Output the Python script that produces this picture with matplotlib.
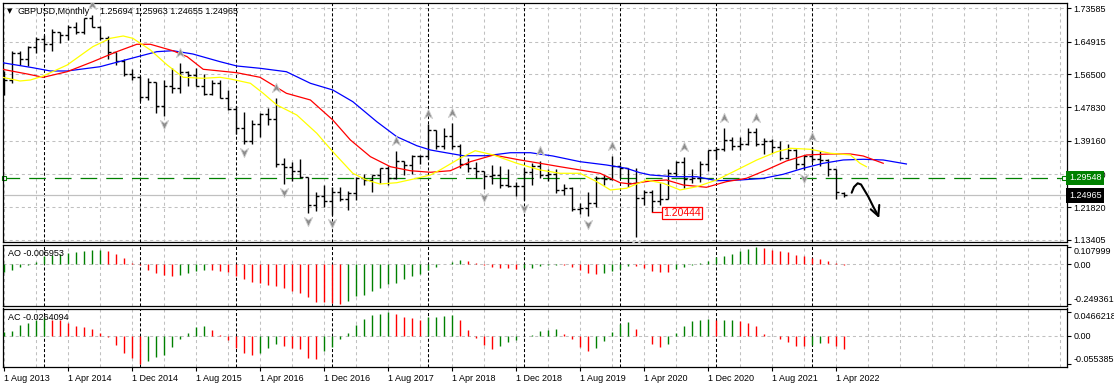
import matplotlib
matplotlib.use('Agg')
import matplotlib.pyplot as plt
import matplotlib.transforms as mtransforms
from matplotlib.collections import LineCollection
from matplotlib.path import Path

plt.rcParams['font.family'] = ['Liberation Sans', 'DejaVu Sans']
plt.rcParams['lines.scale_dashes'] = False

# GBPUSD monthly bars, Aug 2013 .. May 2022 (index 0 = Aug 2013)
opens = [1.5208, 1.5494, 1.6195, 1.6033, 1.6362, 1.6563, 1.6434, 1.6749, 1.6675, 1.6881,
         1.6749, 1.7110, 1.6883, 1.6595, 1.6215, 1.5996, 1.5643, 1.5577, 1.5046, 1.5434,
         1.4826, 1.5347, 1.5283, 1.5712, 1.5614, 1.5338, 1.5127, 1.5424, 1.5034, 1.4741,
         1.4247, 1.3919, 1.4364, 1.4615, 1.4478, 1.3311, 1.3231, 1.3130, 1.2969, 1.2238,
         1.2472, 1.2340, 1.2580, 1.2407, 1.2547, 1.2947, 1.2886, 1.3025, 1.3205, 1.2935,
         1.3396, 1.3280, 1.3527, 1.3514, 1.4190, 1.3774, 1.4027, 1.3775, 1.3300, 1.3200,
         1.3123, 1.2999, 1.3031, 1.2768, 1.2752, 1.2750, 1.3115, 1.3256, 1.3033, 1.3045,
         1.2631, 1.2694, 1.2151, 1.2161, 1.2288, 1.2941, 1.2918, 1.3262, 1.3206, 1.2825,
         1.2420, 1.2590, 1.2344, 1.2397, 1.3090, 1.3371, 1.2915, 1.2946, 1.3321, 1.3670,
         1.3709, 1.3923, 1.3782, 1.3821, 1.4150, 1.3830, 1.3904, 1.3755, 1.3470, 1.3681,
         1.3300, 1.3530, 1.3440, 1.3413, 1.3170, 1.25694]
highs = [1.5717, 1.6260, 1.6259, 1.6384, 1.6603, 1.6668, 1.6823, 1.6750, 1.6923, 1.6996,
         1.7113, 1.7192, 1.6896, 1.6643, 1.6227, 1.6036, 1.5785, 1.5588, 1.5552, 1.5451,
         1.5498, 1.5815, 1.5930, 1.5730, 1.5819, 1.5659, 1.5508, 1.5508, 1.5241, 1.4814,
         1.4668, 1.4459, 1.4637, 1.4769, 1.5018, 1.3479, 1.3372, 1.3445, 1.2973, 1.2587,
         1.2775, 1.2706, 1.2706, 1.2615, 1.2965, 1.3048, 1.3030, 1.3213, 1.3267, 1.3658,
         1.3400, 1.3539, 1.3549, 1.4345, 1.4200, 1.4245, 1.4377, 1.3823, 1.3472, 1.3363,
         1.3130, 1.3298, 1.3258, 1.3175, 1.2840, 1.3215, 1.3350, 1.3382, 1.3173, 1.3177,
         1.2783, 1.2708, 1.2310, 1.2582, 1.3012, 1.3013, 1.3514, 1.3284, 1.3210, 1.3200,
         1.2648, 1.2648, 1.2813, 1.3170, 1.3397, 1.3482, 1.3177, 1.3397, 1.3675, 1.3758,
         1.4241, 1.4005, 1.4009, 1.4240, 1.4249, 1.3984, 1.3958, 1.3913, 1.3834, 1.3700,
         1.3551, 1.3749, 1.3644, 1.3437, 1.3180, 1.25963]
lows = [1.5103, 1.5426, 1.5893, 1.5855, 1.6210, 1.6252, 1.6248, 1.6461, 1.6545, 1.6694,
        1.6693, 1.6864, 1.6535, 1.6052, 1.5875, 1.5591, 1.5485, 1.4951, 1.4988, 1.4633,
        1.4565, 1.5170, 1.5170, 1.5330, 1.5331, 1.5108, 1.5107, 1.5027, 1.4717, 1.4079,
        1.3836, 1.3838, 1.4005, 1.4330, 1.3228, 1.2798, 1.2866, 1.2947, 1.2030, 1.2081,
        1.2198, 1.1990, 1.2345, 1.2109, 1.2365, 1.2770, 1.2589, 1.2812, 1.2774, 1.2915,
        1.3026, 1.3062, 1.3302, 1.3449, 1.3712, 1.3712, 1.3710, 1.3205, 1.3099, 1.2957,
        1.2662, 1.2785, 1.2695, 1.2723, 1.2477, 1.2370, 1.2773, 1.2960, 1.2865, 1.2559,
        1.2506, 1.2080, 1.2015, 1.1959, 1.2195, 1.2768, 1.2900, 1.2954, 1.2725, 1.1409,
        1.2247, 1.2075, 1.2252, 1.2390, 1.3005, 1.2675, 1.2822, 1.2854, 1.3135, 1.3450,
        1.3661, 1.3670, 1.3668, 1.3799, 1.3787, 1.3571, 1.3601, 1.3411, 1.3433, 1.3194,
        1.3161, 1.3356, 1.3272, 1.3000, 1.2410, 1.24655]
closes = [1.5494, 1.6195, 1.6033, 1.6362, 1.6563, 1.6434, 1.6749, 1.6675, 1.6881, 1.6749,
          1.7110, 1.6883, 1.6595, 1.6215, 1.5996, 1.5643, 1.5577, 1.5046, 1.5434, 1.4826,
          1.5347, 1.5283, 1.5712, 1.5614, 1.5338, 1.5127, 1.5424, 1.5034, 1.4741, 1.4247,
          1.3919, 1.4364, 1.4615, 1.4478, 1.3311, 1.3231, 1.3130, 1.2969, 1.2238, 1.2472,
          1.2340, 1.2580, 1.2407, 1.2547, 1.2947, 1.2886, 1.3025, 1.3205, 1.2935, 1.3396,
          1.3280, 1.3527, 1.3514, 1.4190, 1.3774, 1.4027, 1.3775, 1.3300, 1.3200, 1.3123,
          1.2999, 1.3031, 1.2768, 1.2752, 1.2750, 1.3115, 1.3256, 1.3033, 1.3045, 1.2631,
          1.2694, 1.2151, 1.2161, 1.2288, 1.2941, 1.2918, 1.3262, 1.3206, 1.2825, 1.2420,
          1.2590, 1.2344, 1.2397, 1.3090, 1.3371, 1.2915, 1.2946, 1.3321, 1.3670, 1.3709,
          1.3923, 1.3782, 1.3821, 1.4150, 1.3830, 1.3904, 1.3755, 1.3470, 1.3681, 1.3300,
          1.3530, 1.3440, 1.3413, 1.3170, 1.2572, 1.24965]

# alligator lines (bar index, price)
jaw_x = [-0.2, 3.6, 5.8, 7.9, 12, 16.1, 19.1, 21.1, 23.6, 27, 29.1, 32, 35.3, 38.3, 41.1,
         43.6, 46.6, 49.1, 51.6, 53.3, 54.5, 57.4, 60.3, 63.3, 65.8, 68.6, 72, 75.3, 77.8,
         79.5, 80.8, 83.7, 86.6, 89.1, 92, 94.9, 97.4, 99.9, 102.4, 104.9, 107.4, 109.9, 112.8]
jaw_y = [1.5945, 1.5815, 1.5730, 1.5730, 1.5841, 1.6068, 1.6232, 1.6257, 1.6172, 1.5972,
         1.5860, 1.5800, 1.5711, 1.5410, 1.5236, 1.4932, 1.4411, 1.4021, 1.3787, 1.3676,
         1.3631, 1.3527, 1.3527, 1.3605, 1.3605, 1.3520, 1.3372, 1.3286, 1.3200, 1.3085,
         1.3026, 1.2981, 1.2981, 1.2877, 1.2895, 1.2939, 1.3044, 1.3200, 1.3330, 1.3416,
         1.3434, 1.3416, 1.3312]
teeth_x = [-0.2, 2.9, 4.9, 7.9, 11.1, 14.1, 16.6, 18.3, 21.1, 22.9, 24.9, 27, 29.1, 32,
           35.3, 38.3, 41.1, 43.3, 45.8, 48.3, 50.8, 53.3, 55.8, 58.3, 61.2, 64.5, 67, 69.5,
           72, 74.5, 77, 78.3, 80.8, 82.8, 84.9, 87.8, 90.3, 92.8, 95.3, 97.8, 100.3, 103.3,
           105.8, 107.4, 109.9]
teeth_y = [1.5774, 1.5652, 1.5566, 1.5712, 1.5972, 1.6232, 1.6424, 1.6424, 1.6257, 1.6101,
           1.5774, 1.5730, 1.5685, 1.5566, 1.5150, 1.4976, 1.4456, 1.3936, 1.3502, 1.3241,
           1.3137, 1.3096, 1.3137, 1.3372, 1.3545, 1.3416, 1.3330, 1.3241, 1.3156, 1.3070,
           1.2826, 1.2792, 1.2870, 1.2896, 1.2766, 1.2706, 1.2852, 1.2940, 1.3156, 1.3390,
           1.3546, 1.3572, 1.3572, 1.3520, 1.3330]
lips_x = [-0.2, 2, 3.3, 4.9, 7.9, 11.1, 13.3, 14.9, 16.1, 18.3, 20.4, 22.4, 24.9, 27, 28.3,
          30.8, 32.4, 34.1, 36.6, 39.1, 41.1, 43.6, 45.3, 47, 49.1, 51.6, 53.3, 54.5, 57,
          58.9, 61.2, 64.1, 67, 69.5, 72, 74.1, 75.8, 77.8, 80.3, 82.4, 84.5, 86.6, 89.1,
          91.6, 94.1, 96.6, 98.3, 100.8, 103.3, 105.8, 107, 107.8]
lips_y = [1.5566, 1.5470, 1.5496, 1.5600, 1.5886, 1.6362, 1.6580, 1.6640, 1.6580, 1.6276,
          1.5886, 1.5566, 1.5540, 1.5566, 1.5522, 1.5410, 1.5150, 1.4846, 1.4585, 1.4110,
          1.3631, 1.3070, 1.2896, 1.2791, 1.2825, 1.2940, 1.3026, 1.3156, 1.3460, 1.3657,
          1.3545, 1.3330, 1.3156, 1.3070, 1.3070, 1.2851, 1.2636, 1.2680, 1.2896, 1.2810,
          1.2636, 1.2721, 1.2896, 1.3156, 1.3416, 1.3631, 1.3720, 1.3694, 1.3590, 1.3546,
          1.3330, 1.3241]

# fractal bars
fractal_up = [11, 22, 34, 49, 53, 56, 67, 76, 85, 90, 94, 101]
fractal_down = [20, 30, 35, 38, 41, 60, 65, 73, 79, 100]

# Awesome oscillator and accelerator (g = rising bar, r = falling bar)
ao = [-0.0457, -0.0353, -0.0146, -0.0042, 0.0166, 0.0520, 0.0582, 0.0644, 0.0728, 0.0769,
      0.0832, 0.0873, 0.0894, 0.0832, 0.0644, 0.0416, 0.0104, -0.0042, -0.0353, -0.0520,
      -0.0665, -0.0728, -0.0644, -0.0520, -0.0395, -0.0353, -0.0374, -0.0395, -0.0499, -0.0707,
      -0.0915, -0.1102, -0.1143, -0.1310, -0.1351, -0.1497, -0.1663, -0.1767, -0.2058, -0.2328,
      -0.2370, -0.2432, -0.2494, -0.2266, -0.1954, -0.1913, -0.1642, -0.1497, -0.1227, -0.1143,
      -0.0915, -0.0707, -0.0603, -0.0374, -0.0146, 0.0021, 0.0146, 0.0270, 0.0208, 0.0083,
      -0.0021, -0.0146, -0.0208, -0.0229, -0.0291, -0.0249, -0.0208, -0.0083, -0.0062, -0.0021,
      -0.0042, -0.0146, -0.0353, -0.0561, -0.0603, -0.0520, -0.0416, -0.0291, -0.0104, -0.0125,
      -0.0208, -0.0416, -0.0478, -0.0499, -0.0270, -0.0146, -0.0021, 0.0083, 0.0229, 0.0478,
      0.0541, 0.0644, 0.0832, 0.0977, 0.1080, 0.0998, 0.0894, 0.0811, 0.0748, 0.0603,
      0.0520, 0.0395, 0.0333, 0.0187, 0.0083, -0.0060]
ao_colors = 'g' * 13 + 'r' * 9 + 'g' * 4 + 'r' * 17 + 'g' * 15 + 'r' * 7 + 'g' * 5 + 'r' * 5 \
            + 'g' * 4 + 'r' * 5 + 'g' * 11 + 'r' * 11
ac = [0.0079, 0.0092, 0.0211, 0.0243, 0.0309, 0.0362, 0.0309, 0.0303, 0.0257, 0.0191,
      0.0164, 0.0125, 0.0059, -0.0033, -0.0184, -0.0349, -0.0447, -0.0554, -0.0493, -0.0428,
      -0.0382, -0.0217, -0.0066, 0.0046, 0.0164, 0.0191, 0.0112, 0.0013, -0.0086, -0.0250,
      -0.0349, -0.0382, -0.0336, -0.0250, -0.0164, -0.0204, -0.0250, -0.0270, -0.0434, -0.0467,
      -0.0296, -0.0217, -0.0059, 0.0059, 0.0211, 0.0329, 0.0408, 0.0428, 0.0466, 0.0428,
      0.0375, 0.0342, 0.0309, 0.0362, 0.0375, 0.0388, 0.0408, 0.0309, 0.0112, -0.0039,
      -0.0184, -0.0263, -0.0204, -0.0118, -0.0086, -0.0013, 0.0007, 0.0099, 0.0112, 0.0125,
      0.0033, -0.0066, -0.0217, -0.0296, -0.0250, -0.0105, 0.0079, 0.0230, 0.0276, 0.0125,
      -0.0013, -0.0164, -0.0217, -0.0164, 0.0046, 0.0191, 0.0289, 0.0309, 0.0322, 0.0303,
      0.0313, 0.0316, 0.0296, 0.0243, 0.0191, 0.0033, -0.0007, -0.0066, -0.0132, -0.0204,
      -0.0211, -0.0184, -0.0138, -0.0145, -0.0204, -0.0264]
ac_colors = 'g' * 6 + 'r' * 12 + 'g' * 8 + 'r' * 6 + 'g' * 3 + 'r' * 5 + 'g' * 9 + 'r' * 4 \
            + 'g' * 4 + 'r' * 5 + 'g' * 8 + 'r' * 4 + 'g' * 5 + 'r' * 4 + 'g' * 6 + 'r' \
            + 'g' * 2 + 'r' * 9 + 'g' * 2 + 'r' * 3

price_ticks = [1.73585, 1.64915, 1.56500, 1.47830, 1.39160, 1.30490, 1.21820, 1.13405]
date_ticks = list(range(0, 106, 8))
date_labels = ['1 Aug 2013', '1 Apr 2014', '1 Dec 2014', '1 Aug 2015', '1 Apr 2016',
               '1 Dec 2016', '1 Aug 2017', '1 Apr 2018', '1 Dec 2018', '1 Aug 2019',
               '1 Apr 2020', '1 Dec 2020', '1 Aug 2021', '1 Apr 2022']
januaries = [5, 17, 29, 41, 53, 65, 77, 89, 101]
alert_price = 1.29548
bid_price = 1.24965
low_label_bar, low_label_price = 81, 1.2075

# hand drawn arrow
hand_x = [105.96, 106.25, 106.71, 107.13, 107.41, 108.04, 108.66, 109.29]
hand_y = [1.2565, 1.2714, 1.2810, 1.2779, 1.2680, 1.2461, 1.2201, 1.1960]
barb_x = [108.34, 109.29, 109.41]
barb_y = [1.2134, 1.1960, 1.2246]

W, H = 1114, 387
FS = 6.5
fig = plt.figure(figsize=(W / 100, H / 100), dpi=100)


def px_axes(x0, y0, x1, y1):
    return fig.add_axes([x0 / W, 1 - y1 / H, (x1 - x0) / W, (y1 - y0) / H])


def fig_text(x, y, s, **kw):
    return fig.text(x / W, 1 - y / H, s, **kw)


ax = px_axes(2.5, 3, 1066.5, 242)
ao_ax = px_axes(2.5, 244.5, 1066.5, 305.5)
ac_ax = px_axes(2.5, 308.5, 1066.5, 367)

grid_kw = dict(color='#c0c0c0', lw=0.75, dashes=(2.2, 2.2), zorder=0)
sep_kw = dict(color='black', lw=0.75, dashes=(2.2, 1.5), zorder=1)
for a in (ax, ao_ax, ac_ax):
    a.set_xlim(-0.1875, 132.8125)
    for i in range(0, 133, 4):
        a.axvline(i, **grid_kw)
    for i in januaries:
        a.axvline(i, **sep_kw)
    for s in a.spines.values():
        s.set_linewidth(0.9)
    a.yaxis.tick_right()
    a.tick_params(axis='y', length=3, width=0.8, pad=2, labelsize=FS, direction='out')
    a.tick_params(axis='x', length=3, width=0.8, pad=2, labelsize=FS, direction='out')

# main price window
ax.set_ylim(1.12834, 1.74976)
ax.set_xticks([])
ax.set_yticks(price_ticks)
ax.set_yticklabels(['%.5f' % p for p in price_ticks])
for p in price_ticks:
    ax.axhline(p, **grid_kw)

ax.axhline(bid_price, color='#c0c0c0', lw=0.9, zorder=1)
ax.axhline(alert_price, color='#008000', lw=0.9, dashes=(12, 6.5), zorder=1)
ax.plot([0.05, 132.55], [alert_price, alert_price], ls='none', marker='s', ms=3.5,
        mfc='white', mec='#008000', mew=0.8, zorder=2, clip_on=False)

segs = []
for i in range(len(opens)):
    segs.append([(i, lows[i]), (i, highs[i])])
    segs.append([(i - 0.4, opens[i]), (i, opens[i])])
    segs.append([(i, closes[i]), (i + 0.4, closes[i])])
ax.add_collection(LineCollection(segs, colors='black', linewidths=1.0, zorder=3))

ax.plot(jaw_x, jaw_y, color='#0000ff', lw=0.9, zorder=4)
ax.plot(teeth_x, teeth_y, color='#ff0000', lw=0.9, zorder=4)
ax.plot(lips_x, lips_y, color='#ffff00', lw=0.9, zorder=4)

arrow_up = Path([(0, 1), (0.8, -0.8), (0, -0.25), (-0.8, -0.8), (0, 1)],
                [Path.MOVETO, Path.LINETO, Path.LINETO, Path.LINETO, Path.CLOSEPOLY])
arrow_down = Path([(0, -1), (0.8, 0.8), (0, 0.25), (-0.8, 0.8), (0, -1)],
                  [Path.MOVETO, Path.LINETO, Path.LINETO, Path.LINETO, Path.CLOSEPOLY])
up_tr = mtransforms.offset_copy(ax.transData, fig=fig, y=10, units='dots')
dn_tr = mtransforms.offset_copy(ax.transData, fig=fig, y=-8, units='dots')
ax.plot(fractal_up, [highs[i] for i in fractal_up], ls='none', marker=arrow_up, ms=7.5,
        mfc='#8c8c8c', mec='#d0d0d0', mew=0.6, transform=up_tr, zorder=5)
ax.plot(fractal_down, [lows[i] for i in fractal_down], ls='none', marker=arrow_down, ms=7.5,
        mfc='#8c8c8c', mec='#d0d0d0', mew=0.6, transform=dn_tr, zorder=5)

ax.plot([low_label_bar, low_label_bar + 1.4], [low_label_price, low_label_price],
        color='red', lw=0.9, zorder=5)
ax.text(low_label_bar + 1.45, low_label_price - 0.004, '1.20444', color='red', fontsize=7.5,
        ha='left', va='center', zorder=6,
        bbox=dict(boxstyle='square,pad=0.12', fc='white', ec='red', lw=0.9))

ax.plot(hand_x, hand_y, color='black', lw=1.5, zorder=6, solid_capstyle='round')
ax.plot(barb_x, barb_y, color='black', lw=1.5, zorder=6, solid_capstyle='round')

right_tr = mtransforms.blended_transform_factory(ax.transAxes, ax.transData)
ax.text(1.0022, alert_price, '1.29548', transform=right_tr, color='white', fontsize=FS,
        ha='left', va='center', clip_on=False, zorder=10,
        bbox=dict(boxstyle='square,pad=0.3', fc='#008000', ec='none'))
ax.text(1.0022, bid_price, '1.24965', transform=right_tr, color='white', fontsize=FS,
        ha='left', va='center', clip_on=False, zorder=10,
        bbox=dict(boxstyle='square,pad=0.3', fc='black', ec='none'))

# AO window
ao_ax.set_ylim(-0.2575, 0.12375)
ao_ax.set_xticks([])
ao_ax.axhline(0, **grid_kw)
ao_ax.vlines(range(len(ao)), 0, ao, colors=['#008000' if c == 'g' else '#ff0000' for c in ao_colors],
             lw=1.0, zorder=3)
ao_ax.set_yticks([0.107999, 0, -0.249361])
ao_ax.set_yticklabels(['0.107999', '0.00', '-0.249361'])
tl = ao_ax.get_yticklabels()
tl[0].set_va('top')
tl[2].set_va('bottom')

# AC window
ac_ax.set_ylim(-0.06177, 0.05368)
ac_ax.axhline(0, **grid_kw)
ac_ax.vlines(range(len(ac)), 0, ac, colors=['#008000' if c == 'g' else '#ff0000' for c in ac_colors],
             lw=1.0, zorder=3)
ac_ax.set_yticks([0.0466218, 0, -0.055385])
ac_ax.set_yticklabels(['0.0466218', '0.00', '-0.055385'])
tl = ac_ax.get_yticklabels()
tl[0].set_va('top')
tl[2].set_va('bottom')
ac_ax.set_xticks(date_ticks)
ac_ax.set_xticklabels(date_labels, ha='left')

# header texts
fig_text(7, 11, '\u25bc', fontsize=5, va='center', ha='left', family='DejaVu Sans')
fig_text(18, 11, 'GBPUSD,Monthly', fontsize=FS, va='center', ha='left')
fig_text(100, 11, '1.25694 1.25963 1.24655 1.24965', fontsize=FS, va='center', ha='left')
fig_text(8, 253, 'AO -0.005953', fontsize=FS, va='center', ha='left')
fig_text(8, 317, 'AC -0.0264094', fontsize=FS, va='center', ha='left')

fig.savefig('out.png', dpi=100)
